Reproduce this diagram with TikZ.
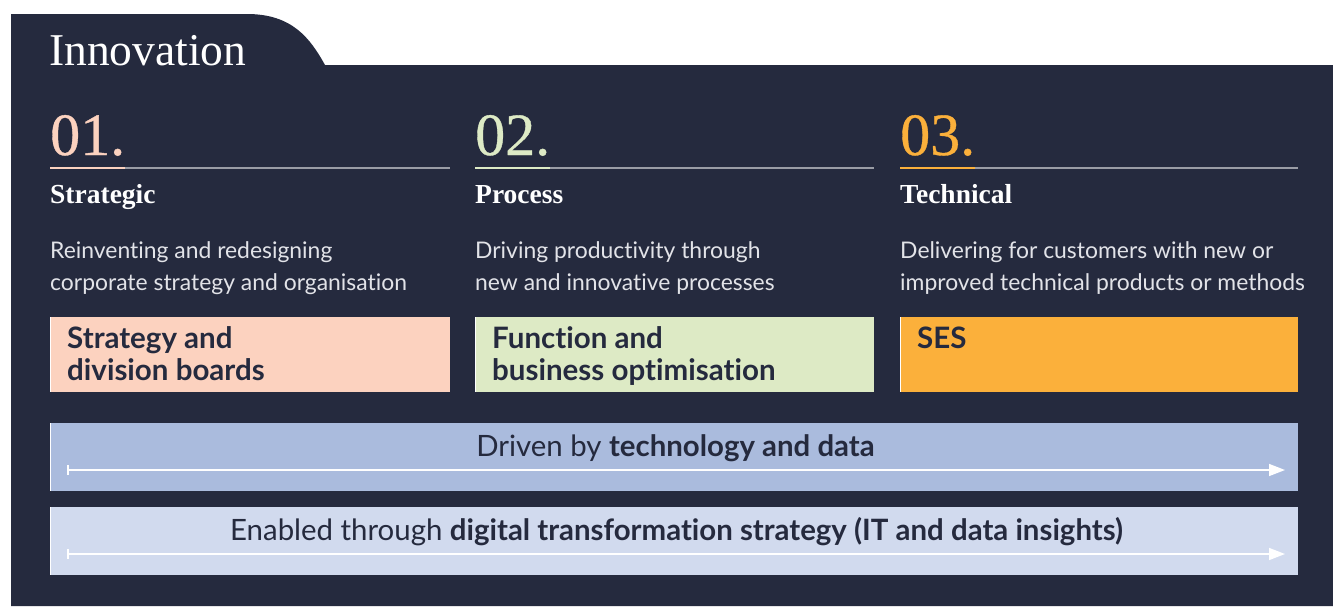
\documentclass[tikz,border=0pt]{standalone}
\usepackage{fontspec}
\setmainfont{Liberation Serif}
\newfontfamily\sansf[Ligatures=NoCommon]{Lato}
\newfontfamily\numf[FakeBold=0.6]{Liberation Serif}
\usetikzlibrary{arrows.meta,calc}
\definecolor{panel}{HTML}{252A3E}
\definecolor{cone}{HTML}{FCD2BF}
\definecolor{ctwo}{HTML}{DDEAC5}
\definecolor{cthree}{HTML}{FBB03B}
\definecolor{barone}{HTML}{AABBDD}
\definecolor{bartwo}{HTML}{D1DAEE}
\definecolor{rulegray}{HTML}{9A9CA5}
\definecolor{desc}{HTML}{E2E3E8}
\tikzset{
  numlbl/.style={anchor=base west, inner sep=0pt, font=\numf\fontsize{60}{60}\selectfont},
  heading/.style={anchor=base west, inner sep=0pt, text=white, font=\bfseries\fontsize{27.5}{27.5}\selectfont},
  desctext/.style={anchor=base west, inner sep=0pt, align=left, text=desc, font=\sansf\fontsize{22.9}{32}\selectfont},
  colbox/.style={anchor=north west, inner sep=0pt, minimum height=75pt},
  boxtext/.style={anchor=base west, inner sep=0pt, align=left, text=panel, font=\sansf\bfseries\fontsize{29.5}{32}\selectfont},
  barbox/.style={anchor=north west, inner sep=0pt, minimum width=1248pt, minimum height=68pt},
  bartext/.style={anchor=base, inner sep=0pt, text=panel, font=\sansf\fontsize{29.4}{29.4}\selectfont},
  ruleline/.style={rulegray, line width=1.5pt},
  accent/.style={line width=2pt},
  edge/.style={white, line width=1pt},
  flow/.style={white, line width=1.5pt, {Bar[width=10pt]}-{Triangle[length=16pt,width=12pt]}}
}
\begin{document}
\begin{tikzpicture}[x=1pt,y=-1pt]
\useasboundingbox (0,0) rectangle (1333,606);
\fill[white] (0,0) rectangle (1333,606);
\fill[panel] (11,606) -- (11,14) -- (247,14) .. controls (292,14) and (310,38) .. (325,65) -- (1333,65) -- (1333,606) -- cycle;
\node[anchor=base west, inner sep=0pt, text=white, font=\fontsize{45.5}{45.5}\selectfont] (title) at (49,65) {Innovation};
% column 1
\node[numlbl, text=cone] (n1) at (50,155) {01.};
\coordinate (r1) at (450,168);
\draw[ruleline] (n1.west |- r1) -- (r1);
\draw[accent, cone] (n1.west |- r1) -- (n1.east |- r1);
\node[heading] (h1) at (50,203) {Strategic};
\node[desctext] (d1) at (50,290) {Reinventing and redesigning\\corporate strategy and organisation};
\node[colbox, minimum width=400pt, fill=cone] (b1) at (50,317) {};
\draw[edge] (b1.north west) -- (b1.south west);
\node[boxtext] (t1) at ($(b1.north west)+(17,63)$) {Strategy and\\division boards};
% column 2
\node[numlbl, text=ctwo] (n2) at (475,155) {02.};
\coordinate (r2) at (874,168);
\draw[ruleline] (n2.west |- r2) -- (r2);
\draw[accent, ctwo] (n2.west |- r2) -- (n2.east |- r2);
\node[heading] (h2) at (475,203) {Process};
\node[desctext] (d2) at (475,290) {Driving productivity through\\new and innovative processes};
\node[colbox, minimum width=399pt, fill=ctwo] (b2) at (475,317) {};
\draw[edge] (b2.north west) -- (b2.south west);
\node[boxtext] (t2) at ($(b2.north west)+(17,63)$) {Function and\\business optimisation};
% column 3
\node[numlbl, text=cthree] (n3) at (900,155) {03.};
\coordinate (r3) at (1298,168);
\draw[ruleline] (n3.west |- r3) -- (r3);
\draw[accent, cthree] (n3.west |- r3) -- (n3.east |- r3);
\node[heading] (h3) at (900,203) {Technical};
\node[desctext] (d3) at (900,290) {Delivering for customers with new or\\improved technical products or methods};
\node[colbox, minimum width=398pt, fill=cthree] (b3) at (900,317) {};
\draw[edge] (b3.north west) -- (b3.south west);
\node[boxtext] (t3) at ($(b3.north west)+(17,31)$) {SES};
% bars
\node[barbox, fill=barone] (bar1) at (50,423) {};
\draw[edge] (bar1.north west) -- (bar1.south west);
\node[bartext] (bt1) at (675.5,456) {Driven by \textbf{technology and data}};
\coordinate (a1s) at (67,470);
\coordinate (a1e) at (1285,470);
\draw[flow] (a1s) -- (a1e);
\node[barbox, fill=bartwo] (bar2) at (50,507) {};
\draw[edge] (bar2.north west) -- (bar2.south west);
\node[bartext] (bt2) at (676.5,540) {Enabled through \textbf{digital transformation strategy (IT and data insights)}};
\coordinate (a2s) at (67,554);
\coordinate (a2e) at (1285,554);
\draw[flow] (a2s) -- (a2e);
\end{tikzpicture}
\end{document}
